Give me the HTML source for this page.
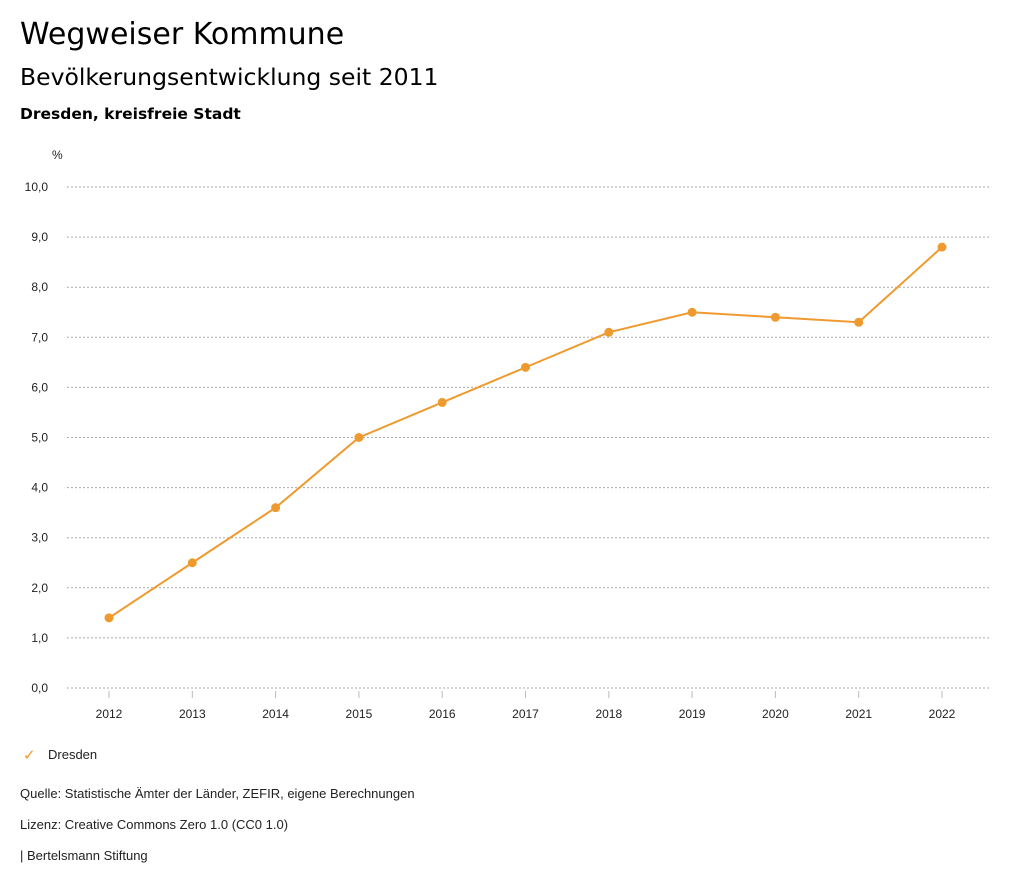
<!DOCTYPE html>
<html><head><meta charset="utf-8"><style>
body{margin:0;background:#fff;font-family:"Liberation Sans",sans-serif;color:#000}
#wrap{position:relative;width:1024px;height:888px;overflow:hidden}
.t{position:absolute;white-space:nowrap}
.d{font-family:"DejaVu Sans",sans-serif}
</style></head><body>
<div id="wrap">
<div class="t d" style="left:20px;top:17px;font-size:30px">Wegweiser Kommune</div>
<div class="t d" style="left:20px;top:63px;font-size:23.5px">Bevölkerungsentwicklung seit 2011</div>
<div class="t d" style="left:20px;top:105px;font-size:15.5px;font-weight:bold">Dresden, kreisfreie Stadt</div>
<svg id="chart" width="1024" height="888" style="position:absolute;left:0;top:0"></svg>
<div class="t" style="left:23px;top:746px;font-size:15px;color:#ef9a2f">✓</div>
<div class="t" style="left:48px;top:747px;font-size:13px;color:#222">Dresden</div>
<div class="t" style="left:20px;top:786px;font-size:13px;color:#222">Quelle: Statistische Ämter der Länder, ZEFIR, eigene Berechnungen</div>
<div class="t" style="left:20px;top:817px;font-size:13px;color:#222">Lizenz: Creative Commons Zero 1.0 (CC0 1.0)</div>
<div class="t" style="left:20px;top:848px;font-size:13px;color:#222">| Bertelsmann Stiftung</div>
</div>
<script>
const years=[2012,2013,2014,2015,2016,2017,2018,2019,2020,2021,2022];
const values=[1.4,2.5,3.6,5.0,5.7,6.4,7.1,7.5,7.4,7.3,8.8];
const yTicks=[0,1,2,3,4,5,6,7,8,9,10];
const NS="http://www.w3.org/2000/svg";
const svg=document.getElementById('chart');
const y0=688,y1=187,vmax=10,xL=67,xR=990;
const yS=v=>y0-(v/vmax)*(y0-y1);
const xS=i=>109+i*(942-109)/(years.length-1);
function mk(tag,attrs,parent){const e=document.createElementNS(NS,tag);for(const k in attrs)e.setAttribute(k,attrs[k]);(parent||svg).appendChild(e);return e;}
const u=mk('text',{x:52,y:159,'font-size':12,fill:'#222','font-family':'Liberation Sans, sans-serif'});u.textContent='%';


yTicks.forEach(v=>{
 const g=mk('line',{x1:xL,x2:xR,y1:yS(v),y2:yS(v),stroke:'#aaa','stroke-dasharray':'2,2','stroke-width':1});
 
 
 const t=mk('text',{x:48,y:yS(v)+4,'text-anchor':'end','font-size':12,fill:'#222','font-family':'Liberation Sans, sans-serif'});
 t.textContent=v.toFixed(1).replace('.',',');
 
 
});
years.forEach((yr,i)=>{
 const tk=mk('line',{x1:xS(i),x2:xS(i),y1:691,y2:698,stroke:'#bbb'});
 
 
 const t=mk('text',{x:xS(i),y:718,'text-anchor':'middle','font-size':12,fill:'#222','font-family':'Liberation Sans, sans-serif'});
 t.textContent=yr;
 
 
});
const p=mk('polyline',{points:values.map((v,i)=>xS(i)+','+yS(v)).join(' '),fill:'none',stroke:'#ef9a2f','stroke-width':2});


values.forEach((v,i)=>{
 const c=mk('circle',{cx:xS(i),cy:yS(v),r:4.5,fill:'#ef9a2f'});
 
 
});
</script>
</body></html>
